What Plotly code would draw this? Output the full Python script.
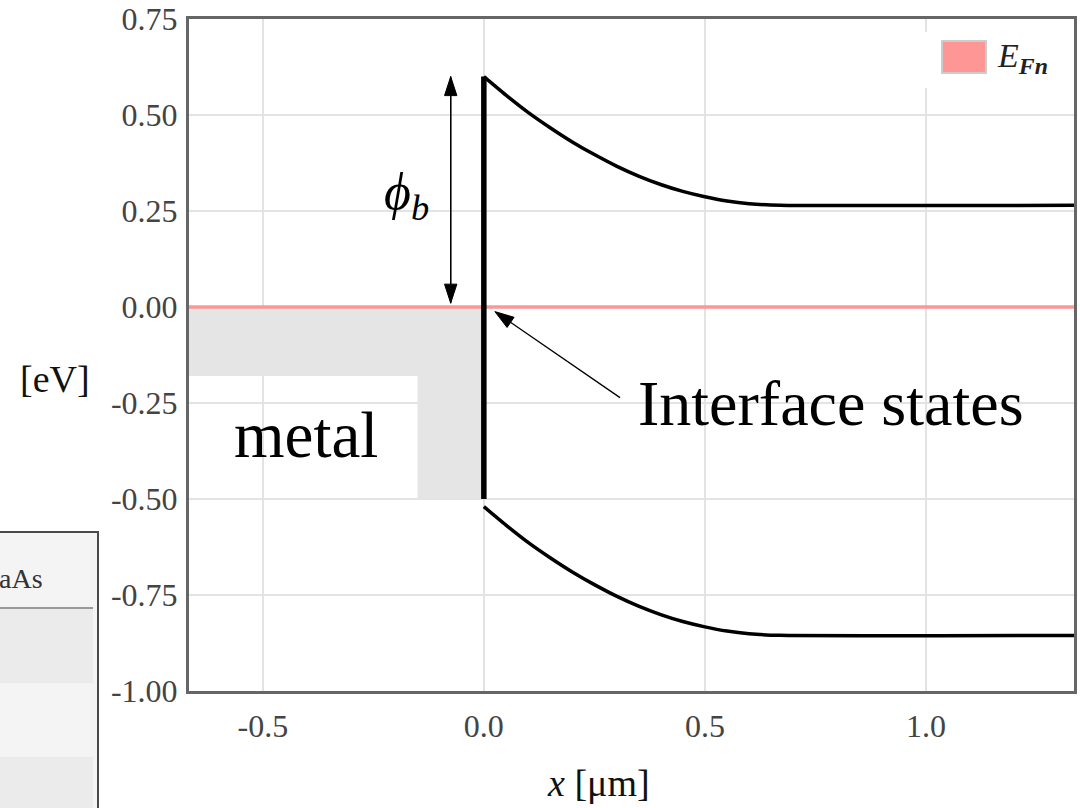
import plotly.graph_objects as go

# ---------------- data ----------------
x_band = [0.0, 0.05, 0.10, 0.15, 0.20, 0.25, 0.30, 0.35, 0.40, 0.45, 0.50, 0.55, 0.60, 0.67, 1.40]
ec_band = [0.600, 0.552, 0.507, 0.467, 0.430, 0.397, 0.367, 0.341, 0.319, 0.301, 0.287, 0.276, 0.269, 0.265, 0.265]
ev_band = [-0.520, -0.568, -0.613, -0.653, -0.690, -0.723, -0.753, -0.779, -0.801, -0.819, -0.833, -0.844, -0.851, -0.855, -0.855]

interface_x = [0.0, 0.0]
interface_y = [0.60, -0.50]

fermi_x = [-0.70, 1.40]
fermi_y = [0.0, 0.0]

metal_x = [-0.70, 0.0, 0.0, -0.15, -0.15, -0.70]
metal_y = [0.0, 0.0, -0.50, -0.50, -0.18, -0.18]

phi_b_x = [-0.075, -0.075]
phi_b_y = [0.01, 0.60]           # bottom tip, top tip

states_arrow_x = [0.308, 0.025]  # tail, tip
states_arrow_y = [-0.236, -0.012]

x_ticks = [-0.5, 0.0, 0.5, 1.0]
x_ticklabels = ["-0.5", "0.0", "0.5", "1.0"]
y_ticks = [0.75, 0.5, 0.25, 0.0, -0.25, -0.5, -0.75, -1.0]
y_ticklabels = ["0.75", "0.50", "0.25", "0.00", "-0.25", "-0.50", "-0.75", "-1.00"]

X_RANGE = [-0.667, 1.335]
Y_RANGE = [-1.0, 0.75]

# ---------------- layout geometry ----------------
W, H = 1080, 808
ML, MR, MT, MB = 189, 6, 19, 117
PW, PH = W - ML - MR, H - MT - MB


def px(xp):
    return (xp - ML) / PW


def py(yp):
    return (H - MB - yp) / PH


SERIF = "Liberation Serif, Times New Roman, serif"
PINK = "#ff9696"

fig = go.Figure()

fig.add_trace(go.Scatter(x=metal_x, y=metal_y, fill="toself", fillcolor="#e5e5e5",
                         mode="none", hoverinfo="skip", showlegend=False, name="metal"))
fig.add_trace(go.Scatter(x=fermi_x, y=fermi_y, mode="lines",
                         line=dict(color=PINK, width=3.5), name="E_Fn", showlegend=False))
fig.add_trace(go.Scatter(x=x_band, y=ec_band, mode="lines",
                         line=dict(color="black", width=3.5, shape="spline", smoothing=0.6),
                         showlegend=False, name="Ec"))
fig.add_trace(go.Scatter(x=x_band, y=ev_band, mode="lines",
                         line=dict(color="black", width=3.5, shape="spline", smoothing=0.6),
                         showlegend=False, name="Ev"))
fig.add_trace(go.Scatter(x=interface_x, y=interface_y, mode="lines",
                         line=dict(color="black", width=5.5), showlegend=False, name="interface"))

# arrows drawn as lines with arrow-head markers (tip at the data point)
arrow_marker = dict(symbol="arrow", size=[0, 20], color="black", angleref="previous",
                    opacity=1, line=dict(width=1, color="black"))
fig.add_trace(go.Scatter(x=phi_b_x, y=phi_b_y, mode="lines+markers",
                         line=dict(color="black", width=1.3), marker=arrow_marker,
                         showlegend=False, hoverinfo="skip"))
fig.add_trace(go.Scatter(x=phi_b_x[::-1], y=phi_b_y[::-1], mode="lines+markers",
                         line=dict(color="black", width=1.3), marker=arrow_marker,
                         showlegend=False, hoverinfo="skip"))
fig.add_trace(go.Scatter(x=states_arrow_x, y=states_arrow_y, mode="lines+markers",
                         line=dict(color="black", width=1.3), marker=arrow_marker,
                         showlegend=False, hoverinfo="skip"))

shapes = []
# manual legend
shapes.append(dict(type="rect", xref="paper", yref="paper", x0=px(916), x1=px(1068), y0=py(88), y1=py(32),
                   fillcolor="white", line=dict(width=0), layer="above"))
shapes.append(dict(type="rect", xref="paper", yref="paper", x0=px(942), x1=px(986), y0=py(73), y1=py(41),
                   fillcolor=PINK, line=dict(color="#cccccc", width=2), layer="above"))
# partial table on the left
shapes.append(dict(type="rect", xref="paper", yref="paper", x0=px(-10), x1=px(98), y0=py(820), y1=py(532),
                   fillcolor="#f4f4f4", line=dict(color="#4a4a4a", width=2), layer="above"))
shapes.append(dict(type="rect", xref="paper", yref="paper", x0=px(-10), x1=px(93), y0=py(683), y1=py(609),
                   fillcolor="#ebebeb", line=dict(width=0), layer="above"))
shapes.append(dict(type="rect", xref="paper", yref="paper", x0=px(-10), x1=px(93), y0=py(815), y1=py(757),
                   fillcolor="#ebebeb", line=dict(width=0), layer="above"))
shapes.append(dict(type="line", xref="paper", yref="paper", x0=px(-10), x1=px(93), y0=py(608), y1=py(608),
                   line=dict(color="#999999", width=2), layer="above"))

annotations = [
    dict(x=-0.176, y=0.29, xref="x", yref="y", text="<i>ϕ</i><sub><i>b</i></sub>",
         xanchor="center", yanchor="middle",
         showarrow=False, font=dict(family=SERIF, size=52, color="black")),
    dict(x=0.785, y=-0.25, xref="x", yref="y", text="Interface states",
         xanchor="center", yanchor="middle",
         showarrow=False, font=dict(family=SERIF, size=64, color="black")),
    dict(x=-0.403, y=-0.333, xref="x", yref="y", text="metal",
         xanchor="center", yanchor="middle",
         showarrow=False, font=dict(family=SERIF, size=65, color="black")),
    # axis labels
    dict(x=px(55), y=py(379), xref="paper", yref="paper", text="[eV]", showarrow=False,
         xanchor="center", yanchor="middle",
         font=dict(family=SERIF, size=38, color="#111111")),
    dict(x=px(598), y=py(783), xref="paper", yref="paper", text="<i>x</i> [μm]", showarrow=False,
         xanchor="center", yanchor="middle", borderpad=0,
         font=dict(family=SERIF, size=38, color="#111111")),
    # legend text
    dict(x=px(995), y=py(58), xref="paper", yref="paper", xanchor="left", yanchor="middle",
         text="<i>E</i><sub><b><i>Fn</i></b></sub>", showarrow=False,
         font=dict(family=SERIF, size=34, color="#222222")),
    # table header fragment
    dict(x=px(45), y=py(578), xref="paper", yref="paper", xanchor="right", yanchor="middle",
         text="aAs", showarrow=False,
         font=dict(family=SERIF, size=28, color="#333333")),
]

axis_common = dict(showline=True, linecolor="#666666", linewidth=3, mirror=True,
                   showgrid=True, gridcolor="#e3e3e3", gridwidth=2, zeroline=False,
                   automargin=False,
                   ticks="", tickfont=dict(family=SERIF, size=32, color="#444444"))

fig.update_layout(
    width=W, height=H,
    margin=dict(l=ML, r=MR, t=MT, b=MB),
    paper_bgcolor="white", plot_bgcolor="white",
    showlegend=False,
    xaxis=dict(range=X_RANGE, tickvals=x_ticks, ticktext=x_ticklabels,
               ticklabelstandoff=5, **axis_common),
    yaxis=dict(range=Y_RANGE, tickvals=y_ticks, ticktext=y_ticklabels,
               ticklabelstandoff=2, **axis_common),
    shapes=shapes,
    annotations=annotations,
)

fig.write_html("out.html", config={"displayModeBar": False},
               post_script="document.body.style.margin='0';")
